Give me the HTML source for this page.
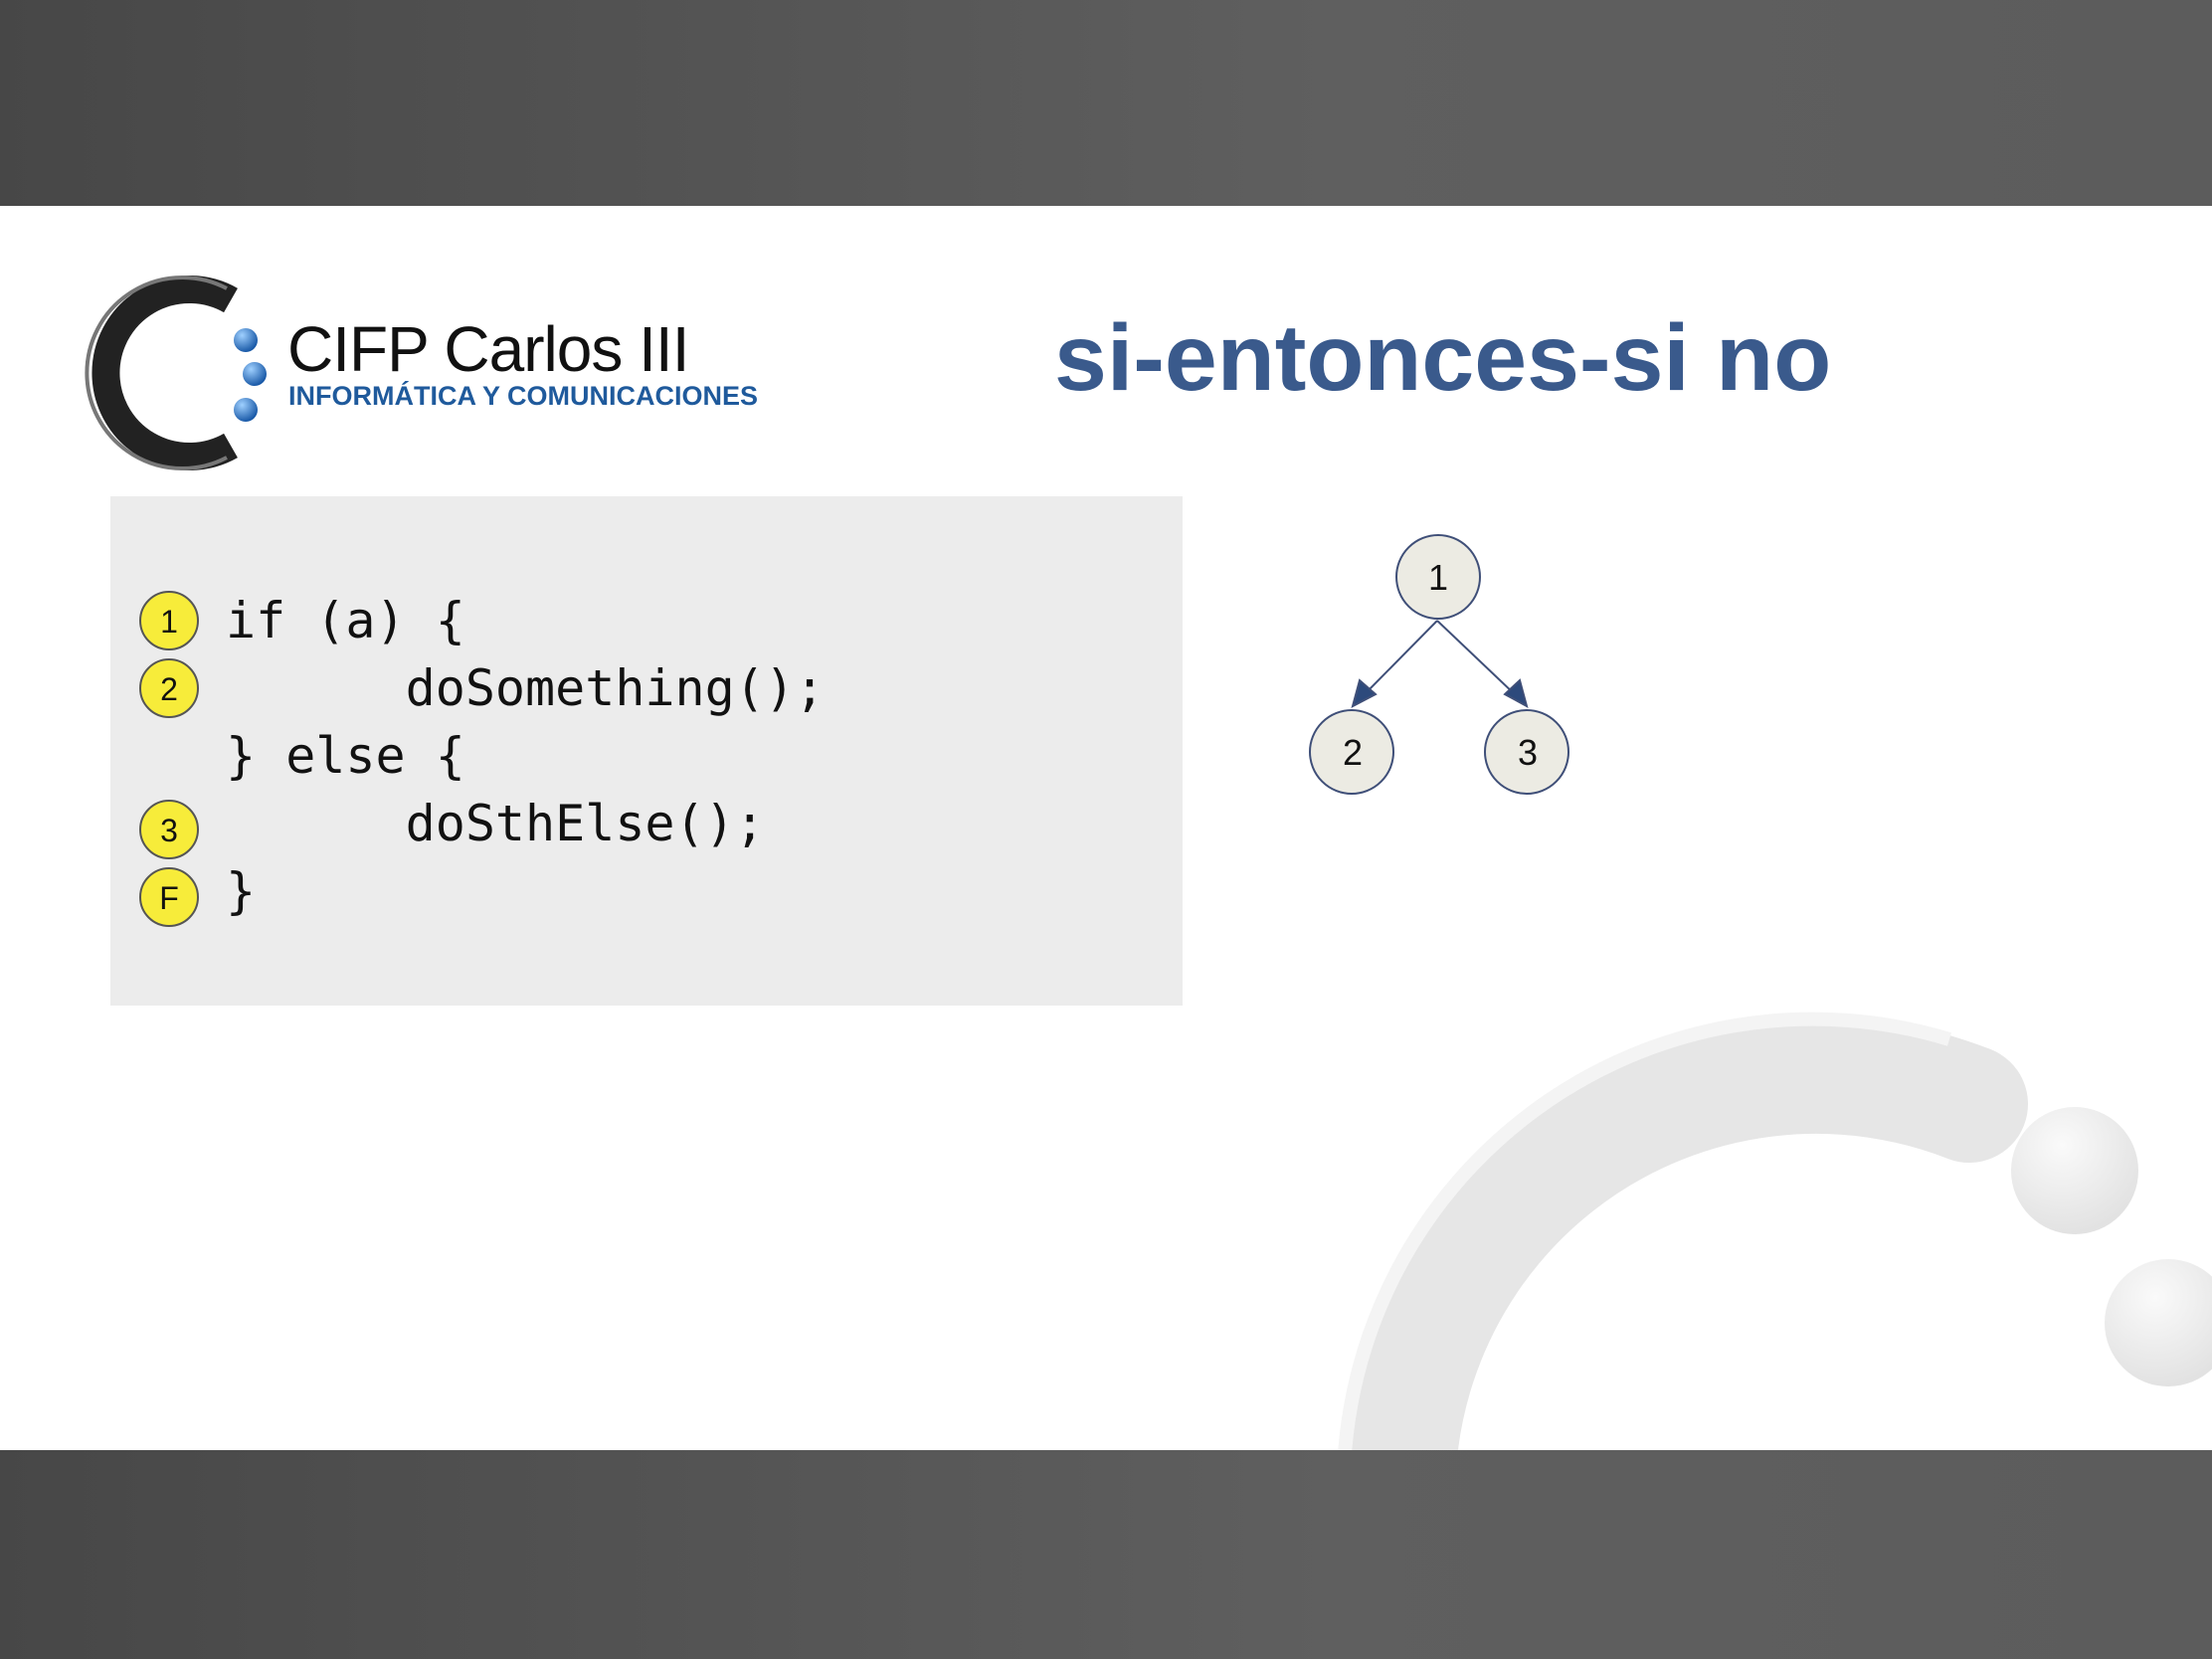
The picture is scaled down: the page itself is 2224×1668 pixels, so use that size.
<!DOCTYPE html>
<html><head><meta charset="utf-8"><style>
html,body{margin:0;padding:0}
body{width:2224px;height:1668px;position:relative;overflow:hidden;background:#fff;font-family:"Liberation Sans",sans-serif}
.bar{position:absolute;left:0;width:2224px;background:linear-gradient(90deg,#474747,#5f5f5f 60%,#5c5c5c)}
.abs{position:absolute;white-space:pre}
.code{font-family:"DejaVu Sans Mono","Liberation Mono",monospace;font-size:50px;color:#111;line-height:68px}
.yc{position:absolute;width:60px;height:60px;border-radius:50%;background:#f7ec3a;border:2px solid #555;box-sizing:border-box;font-size:32px;text-align:center;line-height:58px;color:#111}
</style></head><body>
<div class="bar" style="top:0;height:207px"></div>
<div class="bar" style="top:1458px;height:210px"></div>

<svg class="abs" style="left:0;top:0" width="2224" height="1668">
  <defs>
    <radialGradient id="bd" cx="0.35" cy="0.3" r="0.7"><stop offset="0" stop-color="#9fd0ff"/><stop offset="1" stop-color="#1a5aa8"/></radialGradient>
    <radialGradient id="gd" cx="0.4" cy="0.3" r="0.7"><stop offset="0" stop-color="#fafafa"/><stop offset="1" stop-color="#e2e2e2"/></radialGradient>
    <clipPath id="cl"><rect x="0" y="207" width="2224" height="1251"/></clipPath>
  </defs>
  <g clip-path="url(#cl)">
    <path d="M1408 1560 A422 422 0 0 1 1980 1110" fill="none" stroke="#e6e6e6" stroke-width="118" stroke-linecap="round"/>
    <path d="M1355 1560 A472 472 0 0 1 1960 1045" fill="none" stroke="#f4f4f4" stroke-width="14"/>
    <circle cx="2086" cy="1177" r="64" fill="url(#gd)"/>
    <circle cx="2180" cy="1330" r="64" fill="url(#gd)"/>
  </g>
  <!-- logo -->
  <path d="M232 302 A84 84 0 1 0 232 448" fill="none" stroke="#222" stroke-width="28"/>
  <path d="M228 290 A96 96 0 1 0 228 460" fill="none" stroke="#777" stroke-width="4"/>
  <circle cx="247" cy="342" r="12" fill="url(#bd)"/>
  <circle cx="256" cy="376" r="12" fill="url(#bd)"/>
  <circle cx="247" cy="412" r="12" fill="url(#bd)"/>
  <!-- tree -->
  <g stroke="#3f4f78" stroke-width="2" fill="#ecebe3">
    <line x1="1445" y1="624" x2="1370" y2="700"/>
    <line x1="1445" y1="624" x2="1525" y2="700"/>
    <polygon points="1360,710 1367,684 1383,698" fill="#2d4a7c"/>
    <polygon points="1535,710 1513,698 1528,684" fill="#2d4a7c"/>
    <circle cx="1446" cy="580" r="42"/>
    <circle cx="1359" cy="756" r="42"/>
    <circle cx="1535" cy="756" r="42"/>
  </g>
  <g font-family="Liberation Sans,sans-serif" font-size="36" text-anchor="middle" fill="#111">
    <text x="1446" y="593">1</text><text x="1360" y="769">2</text><text x="1536" y="769">3</text>
  </g>
</svg>

<div class="abs" style="left:289px;top:314px;font-size:64px;color:#111;letter-spacing:-1px">CIFP Carlos III</div>
<div class="abs" style="left:290px;top:383px;font-size:27px;font-weight:bold;color:#1f5a9c">INFORMÁTICA Y COMUNICACIONES</div>
<div class="abs" style="left:1060px;top:306px;font-size:95px;font-weight:bold;color:#3a5a8c">si-entonces-si no</div>

<div class="abs" style="left:111px;top:499px;width:1078px;height:512px;background:#ececec"></div>
<div class="abs code" style="left:227px;top:590px">if (a) {
      doSomething();
} else {
      doSthElse();
}</div>
<div class="yc" style="left:140px;top:594px">1</div>
<div class="yc" style="left:140px;top:662px">2</div>
<div class="yc" style="left:140px;top:804px">3</div>
<div class="yc" style="left:140px;top:872px">F</div>
</body></html>
